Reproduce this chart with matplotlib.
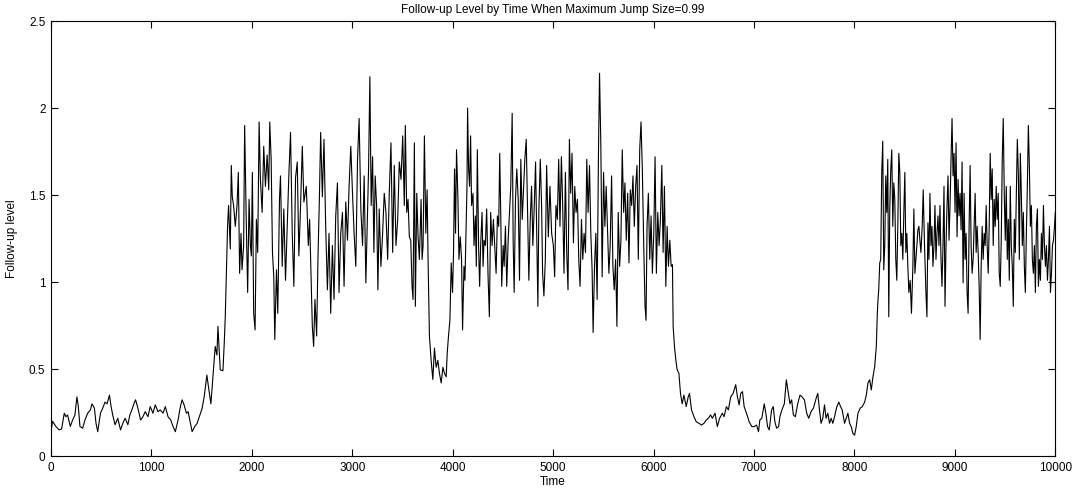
import matplotlib
matplotlib.use('Agg')
import matplotlib.pyplot as plt
import numpy as np

plt.rcParams['font.family'] = ['Liberation Sans', 'DejaVu Sans']

# follow-up level, low regime then high regime etc.
time = [
    0, 15, 48, 82, 105, 132, 148, 165, 192, 215, 238, 258, 272, 288, 315, 338, 365, 392, 408, 432,
    448, 465, 492, 515, 538, 558, 582, 598, 618, 638, 665, 692, 715, 738, 765, 785, 805, 825, 842, 865,
    892, 915, 938, 965, 988, 1015, 1038, 1065, 1088, 1115, 1138, 1165, 1192, 1215, 1238, 1265, 1285, 1305,
    1325, 1348, 1365, 1382, 1405, 1432, 1455, 1482, 1505,
    1525, 1552, 1572, 1592, 1618, 1635, 1652, 1662, 1675,
    1685, 1712, 1725, 1735, 1745, 1758, 1768, 1785, 1795, 1805, 1818, 1835, 1852, 1865, 1878, 1892,
    1902, 1918, 1928, 1945, 1958, 1972, 1985, 1995, 2005, 2018, 2032, 2045, 2058, 2072, 2085, 2102,
    2118, 2135, 2152, 2168, 2178, 2192, 2205, 2218, 2228, 2245, 2258, 2275, 2285, 2302, 2318, 2335,
    2352, 2368, 2385, 2402, 2418, 2435, 2452, 2468, 2485,
    2502, 2518, 2542, 2562, 2575, 2588, 2602, 2615, 2628, 2645, 2658, 2672, 2685, 2702, 2718, 2735,
    2752, 2768, 2785, 2802, 2818, 2835, 2852, 2868, 2885, 2902, 2918, 2935, 2952, 2968, 2985, 3002,
    3018, 3035, 3052, 3068, 3085, 3102, 3118, 3135, 3152, 3162, 3175, 3188, 3202, 3215, 3228, 3242,
    3255, 3268, 3285, 3302, 3318, 3335, 3352, 3368, 3385, 3402, 3418, 3435, 3452, 3468, 3485, 3502,
    3518, 3528, 3542, 3555, 3568, 3582, 3595, 3605, 3618, 3628, 3642, 3655, 3668, 3685,
    3695, 3705, 3718, 3732, 3745, 3755, 3768, 3785, 3802, 3818, 3835, 3852, 3868, 3885, 3902, 3918,
    3935, 3945, 3958, 3972, 3985, 3998, 4008, 4018, 4028, 4038, 4052, 4062, 4075, 4088, 4098, 4112,
    4122, 4132, 4142, 4148, 4158, 4168, 4178, 4188, 4202, 4212, 4225, 4235, 4245, 4258, 4268, 4278,
    4292, 4302, 4312, 4325, 4338, 4352, 4365, 4378, 4392, 4405, 4418, 4432, 4445, 4458, 4468, 4478,
    4488, 4502, 4512, 4525, 4538, 4552, 4565, 4578, 4592, 4602, 4612, 4625, 4638, 4652, 4665, 4678,
    4692, 4705, 4718, 4732, 4745, 4758, 4772, 4785, 4798, 4812, 4825, 4838, 4848, 4858, 4872, 4885,
    4895, 4908, 4922, 4935, 4952, 4968, 4985,
    5002, 5015, 5028, 5042, 5055, 5068, 5082, 5095, 5108, 5122, 5135, 5148, 5162, 5175, 5188, 5202,
    5215, 5228, 5242, 5255, 5268, 5282, 5295, 5308, 5322, 5335, 5348, 5362, 5375, 5388, 5398, 5412,
    5425, 5438, 5452, 5462, 5475, 5488, 5502, 5515, 5528, 5542, 5555, 5568, 5582, 5595, 5608, 5622,
    5635, 5648, 5662, 5675, 5688, 5702, 5715, 5728, 5742, 5755, 5768, 5782, 5795, 5808, 5822, 5835,
    5848, 5862, 5875, 5888, 5902, 5915, 5925, 5935, 5948, 5962, 5975, 5988, 6002, 6015, 6028, 6042,
    6055, 6068, 6082, 6095, 6108, 6122, 6135, 6148, 6162, 6175, 6188, 6195, 6208, 6222,
    6235, 6252, 6268, 6285, 6302, 6325, 6345, 6358, 6378, 6402, 6425, 6452, 6478, 6502, 6525, 6545,
    6568, 6585, 6612, 6635, 6658, 6685, 6702, 6725, 6745, 6768, 6792, 6818, 6835, 6852, 6868, 6885,
    6902, 6925, 6952, 6978, 7002, 7025, 7045, 7058, 7078, 7102, 7118, 7135, 7152, 7175, 7192, 7208,
    7225, 7245, 7258, 7278, 7302, 7322, 7342, 7358, 7375, 7392, 7412, 7435, 7458, 7478, 7502, 7525,
    7545, 7568, 7592, 7618, 7635, 7652, 7668, 7685, 7702, 7718, 7735, 7752, 7768, 7785, 7802, 7825,
    7845, 7862, 7878, 7902, 7918, 7935, 7952, 7968, 7985, 8002, 8018, 8035, 8058, 8078, 8102, 8118,
    8135, 8152, 8168, 8185, 8202,
    8218, 8228, 8235, 8242,
    8252, 8262, 8272, 8282, 8292, 8302, 8312, 8322, 8332, 8342, 8352, 8362, 8372, 8382, 8392, 8402,
    8412, 8422, 8432, 8442, 8452, 8462, 8472, 8482, 8492, 8502, 8512, 8522, 8532, 8542, 8555, 8568,
    8582, 8592, 8602, 8612, 8622, 8632, 8642, 8652, 8662, 8675, 8685,
    8698, 8712, 8722, 8732, 8742, 8752, 8762, 8772, 8782, 8792, 8802, 8812, 8822, 8832, 8842, 8852,
    8862, 8872, 8882, 8892, 8902, 8912, 8922, 8932, 8942, 8952, 8962, 8972, 8982, 8992, 9002, 9012,
    9022, 9032, 9042, 9052, 9062, 9072, 9082, 9092, 9102, 9112, 9122, 9132, 9142, 9152, 9162, 9172,
    9182, 9192, 9202, 9212, 9222, 9232, 9242, 9252, 9262, 9272, 9282, 9292, 9302, 9312, 9322, 9332,
    9342, 9352, 9362, 9372, 9382, 9392, 9402, 9412, 9422, 9432, 9442, 9452, 9462, 9472, 9482, 9492,
    9502, 9512, 9522, 9532, 9542, 9552, 9562, 9572, 9582, 9592, 9602, 9612, 9622, 9632, 9642, 9652,
    9662, 9672, 9682, 9692, 9702, 9712, 9722, 9732, 9742, 9752, 9762, 9772, 9782, 9792, 9802, 9812,
    9822, 9832, 9842, 9852, 9862, 9872, 9882, 9892, 9902, 9912, 9922, 9932, 9942, 9952, 9962, 9972,
    9982, 9992, 10000,
]

level = [
    0.14, 0.20, 0.17, 0.15, 0.155, 0.246, 0.226, 0.236, 0.17, 0.207, 0.236, 0.34, 0.284, 0.17, 0.16, 0.207, 0.246, 0.265, 0.30, 0.275,
    0.188, 0.14, 0.246, 0.275, 0.31, 0.30, 0.35, 0.284, 0.226, 0.18, 0.217, 0.15, 0.188, 0.217, 0.18, 0.236, 0.265, 0.30, 0.323, 0.275,
    0.207, 0.226, 0.255, 0.226, 0.284, 0.246, 0.294, 0.255, 0.265, 0.246, 0.284, 0.226, 0.207, 0.17, 0.14, 0.207, 0.275, 0.323,
    0.294, 0.246, 0.255, 0.207, 0.14, 0.17, 0.188, 0.236, 0.275,
    0.34, 0.465, 0.38, 0.30, 0.50, 0.63, 0.58, 0.745, 0.60,
    0.495, 0.49, 0.65, 0.80, 1.03, 1.32, 1.44, 1.19, 1.67, 1.49, 1.44, 1.32, 1.44, 1.63, 1.05, 1.28,
    1.07, 1.21, 1.90, 1.32, 0.94, 1.475, 1.21, 1.15, 1.63, 0.82, 0.725, 1.36, 1.17, 1.92, 1.59, 1.40,
    1.78, 1.55, 1.73, 1.53, 1.92, 1.705, 1.17, 1.03, 0.67, 1.07, 0.82, 1.475, 1.61, 1.09, 1.42, 1.01,
    1.32, 1.61, 1.86, 1.28, 0.975, 1.60, 1.69, 1.15, 1.44,
    1.78, 1.46, 1.55, 1.21, 1.36, 1.07, 0.745, 0.63, 0.90, 0.69, 1.13, 1.475, 1.86, 1.49, 1.82, 1.32,
    0.955, 1.28, 0.82, 1.21, 0.90, 1.38, 1.57, 0.94, 1.28, 1.40, 0.975, 1.46, 1.24, 1.55, 1.78, 1.51,
    1.28, 1.09, 1.705, 1.94, 1.42, 1.21, 1.61, 0.995, 1.42, 1.65, 2.18, 1.44, 1.72, 1.17, 1.61, 1.44,
    0.955, 1.42, 1.09, 1.28, 1.51, 1.40, 1.13, 1.51, 1.80, 1.17, 1.67, 1.21, 1.36, 1.69, 1.59, 1.84,
    1.44, 1.90, 1.40, 1.475, 1.26, 1.24, 0.975, 0.90, 1.80, 0.86, 1.51, 1.26, 1.13, 1.475,
    1.13, 1.21, 1.84, 1.28, 1.53, 1.11, 0.69, 0.55, 0.44, 0.62, 0.51, 0.55, 0.475, 0.42, 0.51, 0.475,
    0.455, 0.59, 0.69, 0.78, 1.11, 0.94, 1.17, 1.65, 1.28, 1.76, 1.475, 1.13, 1.26, 1.13, 0.725, 1.09,
    1.01, 1.28, 1.55, 2.00, 1.65, 1.55, 1.84, 1.44, 1.51, 1.21, 1.38, 1.09, 1.76, 1.19, 0.975, 1.21,
    1.40, 1.09, 1.24, 1.21, 1.42, 1.03, 0.80, 1.40, 1.21, 1.36, 1.21, 1.05, 1.38, 1.32, 1.74, 1.40,
    0.975, 1.21, 1.09, 1.32, 0.975, 1.24, 1.40, 1.55, 1.97, 1.225, 0.94, 1.475, 1.65, 1.475, 1.01, 1.705,
    1.36, 1.53, 1.705, 1.82, 1.42, 1.01, 1.36, 1.55, 1.21, 1.44, 1.69, 1.21, 0.86, 1.42, 1.705, 1.44,
    1.05, 0.92, 1.13, 1.67, 1.26, 1.55, 1.28,
    1.21, 1.03, 1.44, 1.36, 1.705, 1.32, 1.72, 1.44, 1.05, 1.63, 1.17, 0.955, 1.82, 1.51, 1.74, 1.225,
    1.55, 1.40, 1.475, 1.13, 0.975, 1.36, 1.13, 1.28, 1.17, 1.705, 1.40, 1.67, 1.28, 1.07, 0.71, 1.09,
    1.28, 0.90, 1.78, 2.20, 1.78, 1.03, 1.63, 1.32, 1.55, 1.28, 1.05, 1.21, 1.61, 1.09, 0.955, 1.13,
    0.745, 1.40, 1.09, 1.24, 1.76, 1.40, 1.57, 1.24, 1.51, 1.11, 1.53, 1.44, 1.61, 1.32, 1.55, 1.67,
    1.13, 1.76, 1.92, 1.65, 1.21, 0.86, 0.78, 1.32, 1.51, 1.13, 1.38, 1.05, 1.28, 1.72, 1.05, 1.40,
    1.21, 1.36, 1.67, 1.17, 1.55, 0.975, 1.32, 1.09, 1.24, 1.09, 1.10, 0.745, 0.63, 0.55,
    0.495, 0.476, 0.36, 0.30, 0.35, 0.284, 0.34, 0.36, 0.265, 0.226, 0.197, 0.188, 0.178, 0.188, 0.207, 0.217,
    0.236, 0.217, 0.246, 0.169, 0.217, 0.246, 0.226, 0.284, 0.265, 0.34, 0.36, 0.41, 0.34, 0.294, 0.36, 0.37,
    0.284, 0.246, 0.197, 0.169, 0.169, 0.178, 0.14, 0.207, 0.217, 0.30, 0.246, 0.169, 0.15, 0.265, 0.284, 0.197,
    0.16, 0.169, 0.226, 0.265, 0.30, 0.438, 0.36, 0.30, 0.323, 0.236, 0.226, 0.30, 0.35, 0.34, 0.323, 0.246,
    0.217, 0.255, 0.275, 0.33, 0.36, 0.265, 0.188, 0.217, 0.294, 0.217, 0.246, 0.188, 0.217, 0.188, 0.226, 0.284,
    0.31, 0.284, 0.265, 0.188, 0.217, 0.246, 0.188, 0.169, 0.13, 0.12, 0.169, 0.246, 0.275, 0.284, 0.31, 0.35,
    0.42, 0.438, 0.38, 0.457, 0.515,
    0.63, 0.82, 0.90, 0.955,
    1.11, 1.13, 1.63, 1.81, 1.07, 1.21, 1.61, 1.40, 1.705, 0.80, 1.42, 1.65, 1.76, 1.32, 1.57, 1.475,
    1.13, 1.01, 1.32, 1.74, 1.63, 1.21, 1.28, 1.13, 1.40, 1.63, 1.17, 1.28, 1.09, 0.94, 1.01, 0.82,
    1.09, 1.42, 1.05, 1.13, 1.21, 1.30, 1.32, 1.24, 1.17, 1.32, 1.53,
    1.21, 0.94, 0.80, 1.34, 1.13, 1.51, 1.21, 1.32, 1.09, 1.21, 1.44, 1.13, 1.28, 1.38, 1.21, 1.44,
    1.13, 0.975, 1.21, 1.55, 0.86, 1.21, 1.44, 1.61, 1.24, 1.44, 1.705, 1.94, 1.61, 1.74, 1.40, 1.80,
    1.26, 1.59, 1.38, 1.51, 1.30, 1.69, 0.995, 1.51, 1.13, 1.28, 0.94, 0.82, 1.32, 1.67, 1.21, 1.05,
    1.13, 1.32, 1.51, 1.17, 1.32, 1.17, 0.975, 0.67, 1.09, 1.32, 1.13, 1.28, 1.21, 1.44, 1.21, 1.05,
    1.32, 1.74, 1.475, 1.65, 1.21, 1.475, 1.32, 1.55, 1.36, 1.51, 1.05, 0.975, 1.24, 1.705, 1.94, 1.51,
    1.24, 1.55, 1.13, 1.36, 1.01, 1.55, 1.21, 1.09, 0.86, 1.36, 1.17, 1.51, 1.82, 1.63, 1.13, 1.74,
    1.51, 1.21, 1.40, 1.09, 0.94, 1.28, 1.55, 1.90, 1.67, 1.32, 1.44, 1.13, 1.05, 1.21, 0.94, 1.32,
    1.42, 0.975, 1.13, 1.01, 1.28, 1.13, 1.44, 1.21, 1.09, 1.21, 1.01, 1.13, 1.32, 0.94, 1.05, 1.21,
    1.24, 1.32, 1.40,
]

xticks = [0, 1000, 2000, 3000, 4000, 5000, 6000, 7000, 8000, 9000, 10000]
yticks = [0, 0.5, 1, 1.5, 2, 2.5]
ytick_labels = ['0', '0.5', '1', '1.5', '2', '2.5']

fig = plt.figure(figsize=(10.81, 4.96), dpi=100)
ax = fig.add_axes([0.0472, 0.0806, 0.929, 0.877])

ax.plot(time, level, color='black', lw=0.8)

ax.set_xlim(0, 10000)
ax.set_ylim(0, 2.5)
ax.set_xticks(xticks)
ax.set_xticklabels([str(t) for t in xticks])
ax.set_yticks(yticks)
ax.set_yticklabels(ytick_labels)
ax.tick_params(direction='in', top=True, right=True, length=5, width=0.8,
               labelsize=8.5, pad=4)
for s in ax.spines.values():
    s.set_linewidth(0.8)

ax.set_title('Follow-up Level by Time When Maximum Jump Size=0.99', fontsize=8.5, pad=6)
ax.set_xlabel('Time', fontsize=8.5, labelpad=2)
ax.set_ylabel('Follow-up level', fontsize=8.5, labelpad=8)

fig.savefig('out.png', dpi=100)
